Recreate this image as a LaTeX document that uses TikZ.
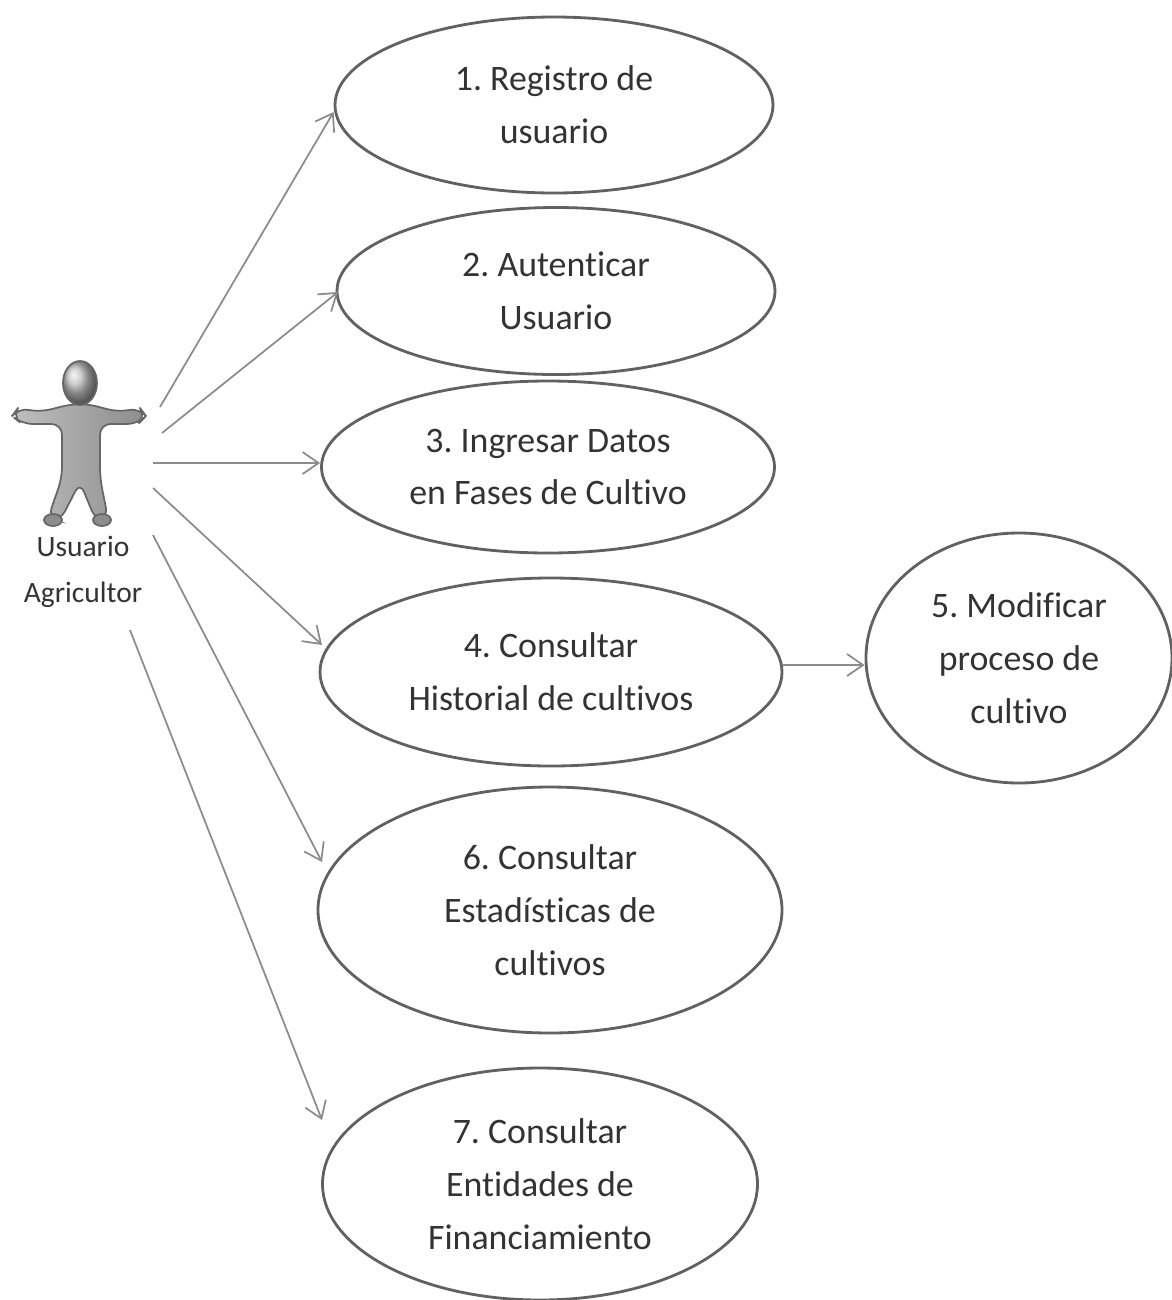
\documentclass[tikz,border=0pt]{standalone}
\usepackage{fontspec}
\setmainfont{Carlito}[Ligatures={NoCommon}]
\usetikzlibrary{arrows.meta,shapes.geometric,positioning}
\tikzset{>={Straight Barb[width=2.2mm,length=1.6mm]}}
\frenchspacing

\begin{document}
\begin{tikzpicture}[x=0.1mm,y=-0.1mm]
  \tikzstyle{ucnode} = [ellipse, draw=black!62, line width=0.8pt, inner sep=0pt, align=center, text=black!80, font=\fontsize{10.2}{15}\selectfont]
  \tikzstyle{assoc} = [->, draw=black!45, line width=0.5pt]
  \useasboundingbox (0,0) rectangle (1172,1300);

  % use cases
  \node[ucnode, minimum width=43.8mm, minimum height=17.6mm] (uc1) at (554,105) {1. Registro de\\usuario};
  \node[ucnode, minimum width=43.8mm, minimum height=16.7mm] (uc2) at (556,291) {2. Autenticar\\Usuario};
  \node[ucnode, minimum width=45.3mm, minimum height=17.2mm] (uc3) at (548,467) {3. Ingresar Datos\\en Fases de Cultivo};
  \node[ucnode, minimum width=46.2mm, minimum height=18.8mm] (uc4) at (551,672) {4. Consultar\\Historial de cultivos};
  \node[ucnode, minimum width=30.6mm, minimum height=25.0mm] (uc5) at (1019,658) {5. Modificar\\proceso de\\cultivo};
  \node[ucnode, minimum width=46.4mm, minimum height=24.6mm] (uc6) at (550,910) {6. Consultar\\Estad\'isticas de\\cultivos};
  \node[ucnode, minimum width=43.5mm, minimum height=23.2mm] (uc7) at (540,1184) {7. Consultar\\Entidades de\\Financiamiento};

  % actor
  \begin{scope}[draw=black!60, line width=0.5pt]
    \shadedraw[left color=black!25, right color=black!45, rounded corners=3pt]
      (72,404) -- (40,412) -- (18,408) -- (12,416) -- (22,424) -- (62,424)
      -- (62,478) -- (48,518) -- (60,521) -- (80,482)
      -- (96,521) -- (108,518) -- (100,478) -- (100,424)
      -- (138,424) -- (146,416) -- (140,408) -- (118,412) -- (88,404) -- cycle;
    \shadedraw[ball color=black!25] (80,383) ellipse [x radius=17, y radius=22];
    \filldraw[fill=black!45] (53,520) ellipse [x radius=9, y radius=6];
    \filldraw[fill=black!45] (102,520) ellipse [x radius=9, y radius=6];
  \end{scope}
  \node[text=black!80, font=\fontsize{8.4}{13}\selectfont, align=center] (actor) at (83,572) {Usuario\\Agricultor};

  \coordinate (a1) at (160,407);
  \coordinate (a2) at (162,433);
  \coordinate (a3) at (153,463);
  \coordinate (a4) at (153,488);
  \coordinate (a6) at (153,535);
  \coordinate (a7) at (130,630);

  \draw[assoc] (a1) -- (uc1.west |- 0,112);
  \draw[assoc] (a2) -- (338,292);
  \draw[assoc] (a3) -- (uc3.west |- a3);
  \draw[assoc] (a4) -- (322,645);
  \draw[assoc] (a6) -- (322,862);
  \draw[assoc] (a7) -- (322,1120);
  \draw[assoc] (uc4.east |- 0,665) -- (uc5.west |- 0,665);
\end{tikzpicture}
\end{document}
